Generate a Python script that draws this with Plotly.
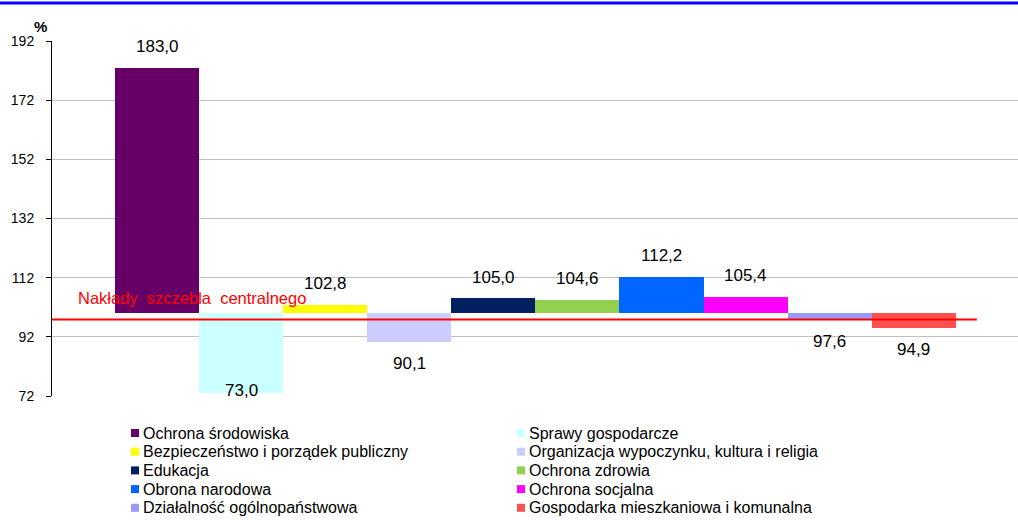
import plotly.graph_objects as go

categories = [
    "Ochrona środowiska",
    "Sprawy gospodarcze",
    "Bezpieczeństwo i porządek publiczny",
    "Organizacja wypoczynku, kultura i religia",
    "Edukacja",
    "Ochrona zdrowia",
    "Obrona narodowa",
    "Ochrona socjalna",
    "Działalność ogólnopaństwowa",
    "Gospodarka mieszkaniowa i komunalna",
]
values = [183.0, 73.0, 102.8, 90.1, 105.0, 104.6, 112.2, 105.4, 97.6, 94.9]
colors = ["#660066", "#CCFFFF", "#FFFF00", "#CCCCFF", "#002060",
          "#92D050", "#0066FF", "#FF00FF", "#9999FF", "#FF5050"]
base_value = 100.0
central_level = 97.9
central_label = "Nakłady  szczebla  centralnego"
y_ticks = [72, 92, 112, 132, 152, 172, 192]

FONT = "Liberation Sans, Arial, sans-serif"
W, H = 1018, 520
ML, MR, MT, MB = 52, 0, 41, 124
PW, PH = W - ML - MR, H - MT - MB


def px_x(px):
    return (px - ML) / PW


def px_y(py):
    return (H - MB - py) / PH


fig = go.Figure()
for i, (cat, v, c) in enumerate(zip(categories, values, colors)):
    fig.add_trace(go.Bar(
        x=[i], y=[v - base_value], base=base_value, name=cat,
        marker=dict(color=c, line=dict(width=0)), width=1.0,
        showlegend=False, hovertemplate=f"{cat}: {v}<extra></extra>",
    ))

# value labels
label_offset = 7.2
for i, v in enumerate(values):
    if v >= base_value:
        ly = v + label_offset
    else:
        ly = max(v - label_offset, y_ticks[0] + 2.0)
    fig.add_annotation(
        x=i, y=ly, text=f"{v:.1f}".replace(".", ","), showarrow=False,
        font=dict(family=FONT, size=17, color="#000000"),
        xanchor="center", yanchor="middle",
    )

# central level line
fig.add_shape(type="line", xref="x", yref="y", x0=-1.25, x1=9.75,
              y0=central_level, y1=central_level,
              line=dict(color="#FF0000", width=2), layer="above")
fig.add_annotation(
    x=-0.965, y=central_level, yshift=21, text=central_label, showarrow=False,
    font=dict(family=FONT, size=16.5, color="#FF0000"),
    xanchor="left", yanchor="middle",
)

# "%" unit label
fig.add_annotation(
    xref="paper", yref="paper", x=px_x(40), y=px_y(26), text="<b>%</b>",
    showarrow=False, font=dict(family=FONT, size=15, color="#000000"),
    xanchor="center", yanchor="middle",
)

# top blue rule
fig.add_shape(type="line", xref="paper", yref="paper",
              x0=px_x(0), x1=px_x(W), y0=px_y(3), y1=px_y(3),
              line=dict(color="#0000FF", width=3))

# legend: two columns, row-major order
col_marker_x = [131, 517]
row_y0, row_step = 433, 18.7
for k, (cat, c) in enumerate(zip(categories, colors)):
    col, row = k % 2, k // 2
    mx = col_marker_x[col]
    my = row_y0 + row * row_step
    fig.add_shape(type="rect", xref="paper", yref="paper",
                  x0=px_x(mx), x1=px_x(mx + 8), y0=px_y(my - 4), y1=px_y(my + 4),
                  fillcolor=c, line=dict(width=0))
    fig.add_annotation(
        xref="paper", yref="paper", x=px_x(mx + 10), y=px_y(my), text=cat,
        showarrow=False, font=dict(family=FONT, size=16, color="#000000"),
        xanchor="left", yanchor="middle",
    )

fig.update_layout(
    width=W, height=H,
    margin=dict(l=ML, r=MR, t=MT, b=MB),
    paper_bgcolor="white", plot_bgcolor="white",
    barmode="overlay", bargap=0,
    font=dict(family=FONT, size=14, color="#000000"),
    showlegend=False,
    xaxis=dict(range=[-1.25, 10.24], showticklabels=False, showgrid=False,
               zeroline=False, showline=False, ticks=""),
    yaxis=dict(range=[y_ticks[0], y_ticks[-1]], tickvals=y_ticks,
               showgrid=True, gridcolor="#C0C0C0", gridwidth=1,
               zeroline=False, showline=True, linecolor="#000000", linewidth=1,
               ticks="outside", ticklen=5, tickcolor="#000000",
               ticklabelstandoff=9,
               tickfont=dict(family=FONT, size=14, color="#000000")),
)

fig.write_html(
    "out.html",
    config={"displayModeBar": False},
    post_script="document.body.style.margin='0px';document.body.style.padding='0px';",
)
